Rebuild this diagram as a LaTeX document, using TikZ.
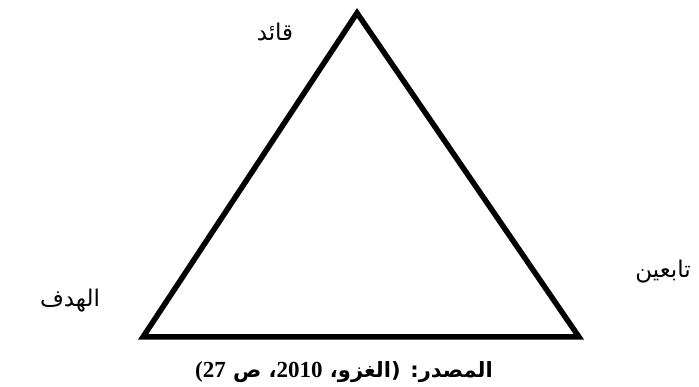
\documentclass[tikz,border=0pt]{standalone}
\usepackage{fontspec}
\newfontfamily\arabicfont[Script=Arabic]{DejaVu Sans}
\newfontfamily\digitfont{Liberation Serif}
\TeXXeTstate=1

\begin{document}
\begin{tikzpicture}[x=1pt,y=1pt]
\tikzset{
  rolelabel/.style={inner sep=0pt,font=\arabicfont\fontsize{23}{26}\selectfont},
  sourcelabel/.style={inner sep=0pt,font=\arabicfont\bfseries\fontsize{21}{24}\selectfont},
  triedge/.style={line width=5.5pt,line join=miter}
}
\useasboundingbox (0,0) rectangle (699,387);
\coordinate (v_leader) at (357,374);
\coordinate (v_goal) at (143,50);
\coordinate (v_followers) at (579,50);
\draw[triedge] (v_leader) -- (v_goal) -- (v_followers) -- cycle;
\node[rolelabel] (n_leader) at (275,355) {\beginR قائد\endR};
\node[rolelabel] (n_goal) at (70,86) {\beginR الهدف\endR};
\node[rolelabel] (n_followers) at (663,115) {\beginR تابعين\endR};
\node[sourcelabel] (n_source) at (344,15) {\beginR المصدر: (الغزو، \beginL{\digitfont\bfseries\fontsize{23}{26}\selectfont 2010}\endL{}، ص \beginL{\digitfont\bfseries\fontsize{23}{26}\selectfont(27}\endL{}\endR};
\end{tikzpicture}
\end{document}
